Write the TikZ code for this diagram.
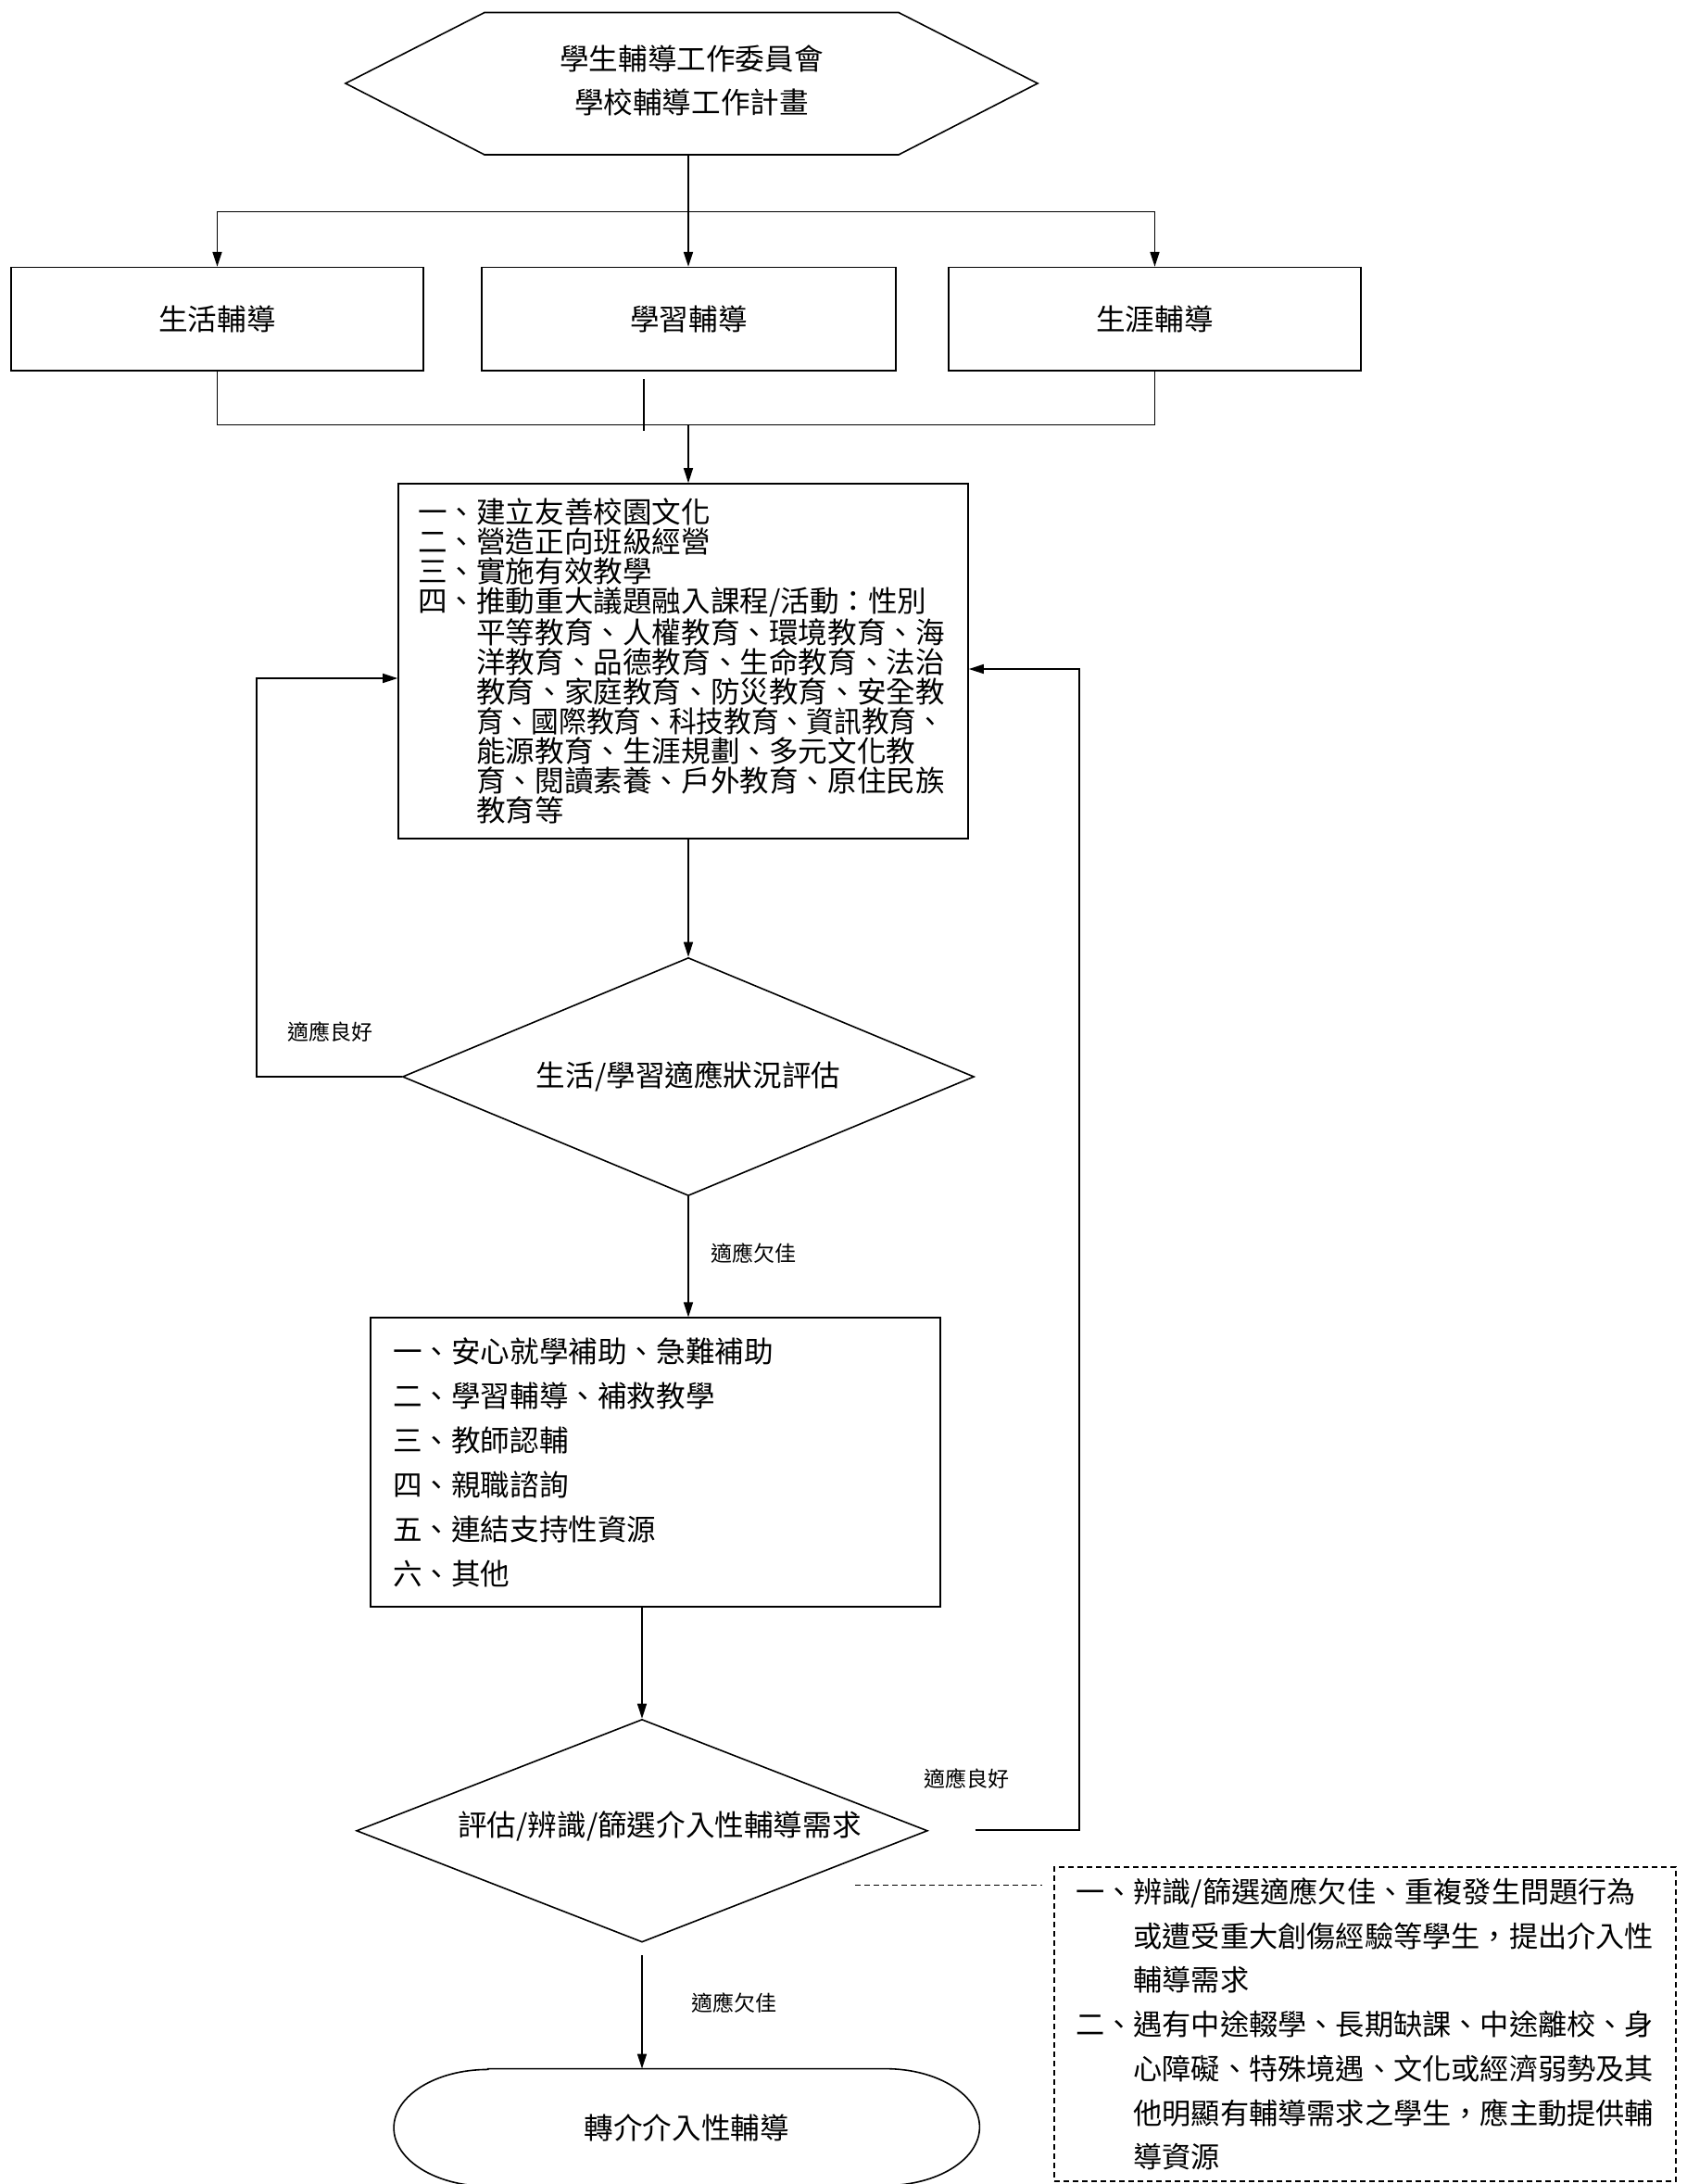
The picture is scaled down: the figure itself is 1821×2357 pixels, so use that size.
\documentclass[tikz,border=0pt]{standalone}
\usepackage{fontspec}
\usepackage{graphicx}
\usetikzlibrary{arrows.meta,shapes.geometric}
\newfontfamily\cjk{Noto Sans CJK TC}
\AtBeginDocument{\setlength{\lineskiplimit}{-20pt}}
\begin{document}
\begin{tikzpicture}[x=0.5pt,y=-0.5pt,
  ln/.style={line width=0.8pt},
  arr/.style={ln,-{Triangle[length=8pt,width=5pt]}},
  big/.style={font=\cjk\fontsize{15.8pt}{16pt}\selectfont},
  lbl/.style={font=\cjk\fontsize{11.5pt}{12pt}\selectfont, inner sep=0pt},
  rbox/.style={draw, ln, inner sep=0pt, big},
  dia/.style={draw, ln, diamond, aspect=2.4, inner sep=0pt, big}
]
\useasboundingbox (0,0) rectangle (1821,2357);

% top hexagon
\draw[ln] (373,90) -- (523,13.5) -- (970,13.5) -- (1120,90) -- (970,167) -- (523,167) -- cycle;
\node[align=center, font=\cjk\fontsize{15.8pt}{23.5pt}\selectfont] (hex) at (746.5,87) {學生輔導工作委員會\\學校輔導工作計畫};
\coordinate (hexB) at (743,167);
\coordinate (split) at (743,228.6);

% three boxes
\node[rbox, minimum width=222.5pt, minimum height=55.65pt] (b1) at (234.5,344.3) {生活輔導};
\node[rbox, minimum width=223.5pt, minimum height=55.65pt] (b2) at (743.5,344.3) {學習輔導};
\node[rbox, minimum width=222.5pt, minimum height=55.65pt] (b3) at (1246.5,344.3) {生涯輔導};

\draw[ln] (hexB) -- (split);
\draw[arr] (split) -| (b1.north);
\draw[arr] (split) -- (split |- b2.north);
\draw[arr] (split) -| (b3.north);

\coordinate (join) at (743,458.6);
\coordinate (stubA) at (695,409);
\coordinate (stubB) at (695,465);
\draw[ln] (b1.south) |- (join) -| (b3.south);
\draw[ln] (stubA) -- (stubB);

% big plan box
\node[rbox, align=left, text width=286.5pt, inner xsep=10.5pt, minimum height=191.5pt] (plan) at (737.5,713.5) {%
一、建立友善校園文化\\
二、營造正向班級經營\\
三、實施有效教學\\
四、推動重大議題融入課程/活動：性別\\
\hspace*{2em}平等教育、人權教育、環境教育、海\\
\hspace*{2em}洋教育、品德教育、生命教育、法治\\
\hspace*{2em}教育、家庭教育、防災教育、安全教\\
\hspace*{2em}\scalebox{0.94}[1]{育、國際教育、科技教育、資訊教育、}\\
\hspace*{2em}能源教育、生涯規劃、多元文化教\\
\hspace*{2em}育、閱讀素養、戶外教育、原住民族\\
\hspace*{2em}教育等};
\draw[arr] (join) -- (join |- plan.north);

% first decision
\node[dia, minimum width=308.5pt, minimum height=128.5pt] (d1) at (743,1162) {生活/學習適應狀況評估};
\draw[arr] (plan.south -| d1.north) -- (d1.north);
\coordinate (loopL) at (276.7,732);
\draw[arr] (d1.west) -| (loopL) -- (plan.west |- loopL);
\node[lbl] (la1) at (356,1114) {適應良好};

% help box
\node[draw, ln, inner sep=0pt, align=left, text width=283.5pt, inner xsep=12pt, minimum height=155.75pt,
      font=\cjk\fontsize{15.8pt}{24pt}\selectfont] (help) at (707.5,1578) {%
一、安心就學補助、急難補助\\
二、學習輔導、補救教學\\
三、教師認輔\\
四、親職諮詢\\
五、連結支持性資源\\
六、其他};
\draw[arr] (d1.south) -- (d1.south |- help.north);
\node[lbl] (la2) at (813.5,1353) {適應欠佳};

% second decision
\node[dia, minimum width=308.25pt, minimum height=120.25pt] (d2) at (693,1975.75) {};
\node[inner sep=0pt, font=\cjk\fontsize{15.8pt}{16pt}\selectfont] (d2t) at (712,1971) {評估/辨識/篩選介入性輔導需求};
\draw[arr] (help.south -| d2.north) -- (d2.north);

% right feedback loop
\coordinate (rl0) at (1052.6,1975);
\coordinate (rl2) at (1165,722);
\draw[arr] (rl0) -| (rl2) -- (plan.east |- rl2);
\node[lbl] (la3) at (1043.5,1920) {適應良好};

% dashed note
\node[draw, ln, dashed, dash pattern=on 3pt off 2pt, align=left, text width=312.5pt, inner xsep=11.5pt, inner ysep=0pt,
      minimum height=169.5pt, font=\cjk\fontsize{15.6pt}{23.85pt}\selectfont] (note) at (1473.5,2184.5) {%
一、辨識/篩選適應欠佳、重複發生問題行為\\
\hspace*{2em}或遭受重大創傷經驗等學生，提出介入性\\
\hspace*{2em}輔導需求\\
二、遇有中途輟學、長期缺課、中途離校、身\\
\hspace*{2em}心障礙、特殊境遇、文化或經濟弱勢及其\\
\hspace*{2em}他明顯有輔導需求之學生，應主動提供輔\\
\hspace*{2em}導資源};
\coordinate (dl0) at (923,2034.5);
\coordinate (dl1) at (1125,2034.5);
\draw[ln, dash pattern=on 3pt off 2pt] (dl0) -- (dl1);

% terminal
\node[inner sep=0pt, minimum width=315.75pt, minimum height=63pt, font=\cjk\fontsize{15.8pt}{16pt}\selectfont] (term) at (741.25,2296) {轉介介入性輔導};
\draw[ln] ([xshift=50.8pt]term.north west) -- ([xshift=-50.8pt]term.north east)
  arc[start angle=90, end angle=-90, x radius=50.8pt, y radius=31.5pt]
  -- ([xshift=50.8pt]term.south west)
  arc[start angle=270, end angle=90, x radius=50.8pt, y radius=31.5pt] -- cycle;
\coordinate (g2) at (693,2110);
\draw[arr] (g2) -- (g2 |- term.north);
\node[lbl] (la4) at (792.5,2162) {適應欠佳};
\end{tikzpicture}
\end{document}
